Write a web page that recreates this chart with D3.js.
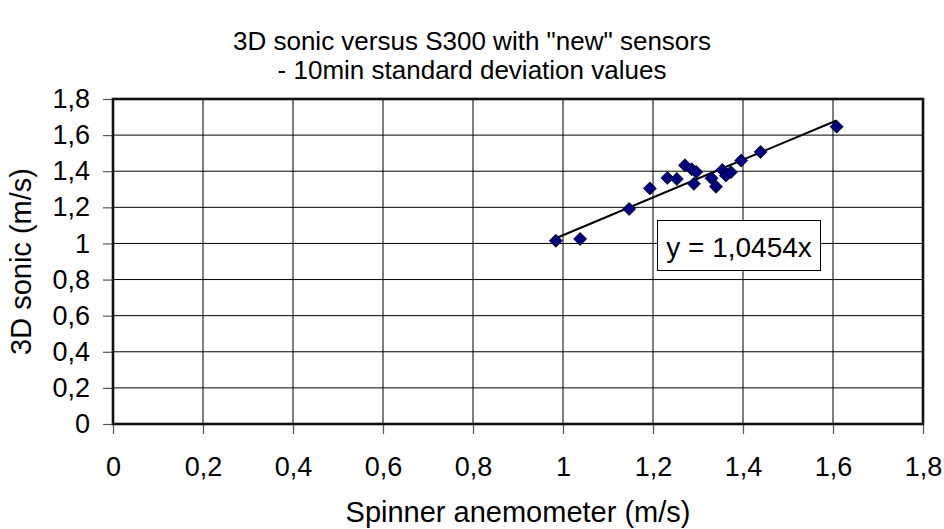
<!DOCTYPE html>
<html>
<head>
<meta charset="utf-8">
<script src="https://cdn.jsdelivr.net/npm/d3@7"></script>
<style>
  html, body { margin: 0; padding: 0; background: #fff; }
  svg { display: block; font-family: "Liberation Sans", Arial, sans-serif; }
</style>
</head>
<body>
<svg id="chart" width="944" height="529"></svg>
<script>
// ---- data ----
const titleLines = ['3D sonic versus S300 with "new" sensors', '- 10min standard deviation values'];
const xLabel = "Spinner anemometer (m/s)";
const yLabel = "3D sonic (m/s)";
const spinnerX = [0.984, 1.038, 1.147, 1.193, 1.232, 1.253, 1.271, 1.286, 1.296, 1.291, 1.330, 1.340, 1.354, 1.362, 1.373, 1.396, 1.439, 1.608];
const sonicY   = [1.015, 1.025, 1.191, 1.305, 1.363, 1.357, 1.433, 1.411, 1.396, 1.330, 1.361, 1.314, 1.407, 1.376, 1.395, 1.459, 1.507, 1.647];
const slope = 1.0454;
const equationLabel = "y = 1,0454x";
const xTicks = [0, 0.2, 0.4, 0.6, 0.8, 1, 1.2, 1.4, 1.6, 1.8];
const yTicks = [0, 0.2, 0.4, 0.6, 0.8, 1, 1.2, 1.4, 1.6, 1.8];

// ---- layout ----
const svg = d3.select("#chart");
const pL = 113, pR = 923, pT = 99, pB = 424;
const x = d3.scaleLinear().domain([0, 1.8]).range([pL, pR]);
const y = d3.scaleLinear().domain([0, 1.8]).range([pB, pT]);
const fmt = d => String(+d.toFixed(1)).replace(".", ",");

// gridlines
svg.append("g").selectAll("line").data(xTicks).join("line")
  .attr("x1", d => x(d)).attr("x2", d => x(d)).attr("y1", pT).attr("y2", pB)
  .attr("stroke", "#000").attr("stroke-width", 1);
svg.append("g").selectAll("line").data(yTicks).join("line")
  .attr("x1", pL).attr("x2", pR).attr("y1", d => y(d)).attr("y2", d => y(d))
  .attr("stroke", "#000").attr("stroke-width", 1);

// axes
const xAxis = d3.axisBottom(x).tickValues(xTicks).tickFormat(fmt).tickSize(10).tickPadding(23);
const yAxis = d3.axisLeft(y).tickValues(yTicks).tickFormat(fmt).tickSize(10).tickPadding(13);
const gx = svg.append("g").attr("transform", `translate(0,${pB})`).call(xAxis);
const gy = svg.append("g").attr("transform", `translate(${pL},0)`).call(yAxis);
[gx, gy].forEach(g => {
  g.select(".domain").remove();
  g.selectAll(".tick line").attr("stroke", "#555").attr("stroke-width", 1.2);
  g.selectAll("text").attr("font-size", 27).attr("fill", "#000")
    .attr("font-family", "'Liberation Sans', Arial, sans-serif");
});

// plot border
svg.append("rect").attr("x", pL).attr("y", pT).attr("width", pR - pL).attr("height", pB - pT)
  .attr("fill", "none").attr("stroke", "#111").attr("stroke-width", 2.6);

// trendline
const xmin = d3.min(spinnerX), xmax = d3.max(spinnerX);
svg.append("line")
  .attr("x1", x(xmin)).attr("y1", y(slope * xmin))
  .attr("x2", x(xmax)).attr("y2", y(slope * xmax))
  .attr("stroke", "#000").attr("stroke-width", 2);

// points
const diamond = "M0,-6.5L6.5,0L0,6.5L-6.5,0Z";
svg.append("g").selectAll("path").data(spinnerX.map((v, i) => [v, sonicY[i]])).join("path")
  .attr("d", diamond)
  .attr("transform", d => `translate(${x(d[0])},${y(d[1])})`)
  .attr("fill", "#000080").attr("stroke", "#000").attr("stroke-width", 0.8);

// equation label
svg.append("rect").attr("x", 657.5).attr("y", 220.5).attr("width", 163).attr("height", 50)
  .attr("fill", "#fff").attr("stroke", "#000").attr("stroke-width", 1);
svg.append("text").attr("x", 739).attr("y", 257).attr("text-anchor", "middle")
  .attr("font-size", 28).text(equationLabel);

// titles
svg.append("g").selectAll("text").data(titleLines).join("text")
  .attr("x", 472).attr("y", (d, i) => 49.5 + i * 29.5).attr("text-anchor", "middle")
  .attr("font-size", 26).text(d => d);
svg.append("text").attr("x", (pL + pR) / 2).attr("y", 522).attr("text-anchor", "middle")
  .attr("font-size", 29).text(xLabel);
svg.append("text").attr("transform", `translate(31,${(pT + pB) / 2}) rotate(-90)`)
  .attr("text-anchor", "middle").attr("font-size", 29).text(yLabel);
</script>
</body>
</html>
